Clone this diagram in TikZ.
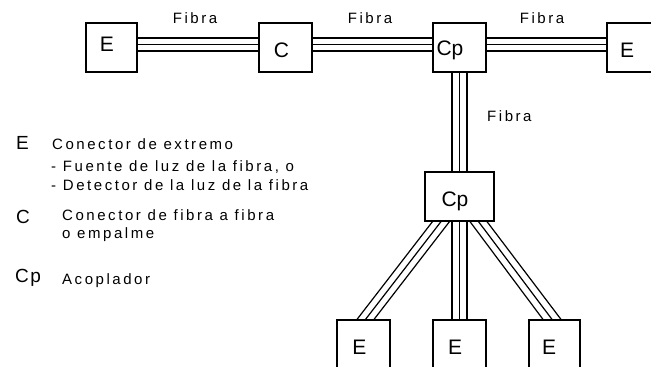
\documentclass[tikz,border=0pt]{standalone}
\usepackage{fontspec}
\setmainfont{Liberation Sans}
\newfontfamily\spacedfont[LetterSpace=17]{Liberation Sans}
\newfontfamily\keyfont[LetterSpace=8]{Liberation Sans}
\newcommand\txtfont{\spacedfont\fontsize{15}{17}\selectfont}
\newcommand\boxfont{\fontsize{21}{24}\selectfont}
\newcommand\legfont{\keyfont\fontsize{19}{21}\selectfont}
\tikzset{
  unit/.style={draw, line width=1.2pt, minimum width=#1, minimum height=49pt, inner sep=0pt},
  fib/.style={line width=1.2pt},
  boxtext/.style={font=\boxfont, inner sep=0pt, anchor=base},
  fibtext/.style={font=\txtfont, inner sep=0pt, anchor=base},
  keytext/.style={font=\txtfont, inner sep=0pt, anchor=base west},
  keyletter/.style={font=\legfont, inner sep=0pt, anchor=base west},
}
\begin{document}
\begin{tikzpicture}[x=1pt,y=-1pt]
\useasboundingbox (0,0) rectangle (651,367);
\clip (0,0) rectangle (651,367);

% top row of units
\node[unit=51pt] (e1)  at (111.5,47.5) {};
\node[unit=53pt] (c)   at (285.5,47.5) {};
\node[unit=53pt] (cp1) at (459.5,47.5) {};
\node[unit=51pt] (e2)  at (632.5,47.5) {};
% coupler and bottom end units
\node[unit=69pt] (cp2) at (459.5,196.5) {};
\node[unit=53pt] (e3)  at (363.5,344.5) {};
\node[unit=53pt] (e4)  at (459.5,344.5) {};
\node[unit=51pt] (e5)  at (554.5,344.5) {};

% letters inside the units
\node[boxtext] (e1t)  at (107,51.5)   {E};
\node[boxtext] (ct)   at (281.5,57) {C};
\node[boxtext] (cp1t) at (450,55.5)   {Cp};
\node[boxtext] (e2t)  at (627,57.5)   {E};
\node[boxtext] (cp2t) at (455,206.5)  {Cp};
\node[boxtext] (e3t)  at (359.5,354.5) {E};
\node[boxtext] (e4t)  at (455,354.5)  {E};
\node[boxtext] (e5t)  at (549,354.5)  {E};

% horizontal fibre links (three strands each)
\foreach \a/\b in {e1/c, c/cp1, cp1/e2}{
  \foreach \d in {9.5,3,-3.5}{
    \draw[fib] ([yshift=\d pt]\a.east) -- ([yshift=\d pt]\b.west);
  }
}
% vertical fibre links
\foreach \a/\b in {cp1/cp2, cp2/e4}{
  \foreach \d in {-7.5,0,7.5}{
    \draw[fib] ([xshift=\d pt]\a.south) -- ([xshift=\d pt]\b.north);
  }
}
% slanted fibre links from the coupler
\foreach \t/\u in {-27/-6.5, -18.5/2, -10/10.5}{
  \draw[fib] ([xshift=\t pt]cp2.south) -- ([xshift=\u pt]e3.north);
}
\foreach \t/\u in {10.5/-11.5, 19/-2.5, 27.5/6.5}{
  \draw[fib] ([xshift=\t pt]cp2.south) -- ([xshift=\u pt]e5.north);
}

% fibre labels
\node[fibtext] (f1) at (195,23) {Fibra};
\node[fibtext] (f2) at (370,23) {Fibra};
\node[fibtext] (f3) at (542,23) {Fibra};
\node[fibtext, anchor=base west] (f4) at (487,121) {Fibra};

% key
\node[keyletter] (ke)  at (16,149) {E};
\node[keytext]   (ke1) at (52,149) {Conector de extremo};
\node[keytext]   (ke2) at (51,171) {- Fuente de luz de la fibra, o};
\node[keytext]   (ke3) at (51,190.5) {- Detector de la luz de la fibra};
\node[keyletter] (kc)  at (16,223) {C};
\node[keytext]   (kc1) at (62,220) {Conector de fibra a fibra};
\node[keytext]   (kc2) at (62,238.5) {o empalme};
\node[keyletter] (kp)  at (15,282) {Cp};
\node[keytext]   (kp1) at (62,284) {Acoplador};
\end{tikzpicture}
\end{document}
